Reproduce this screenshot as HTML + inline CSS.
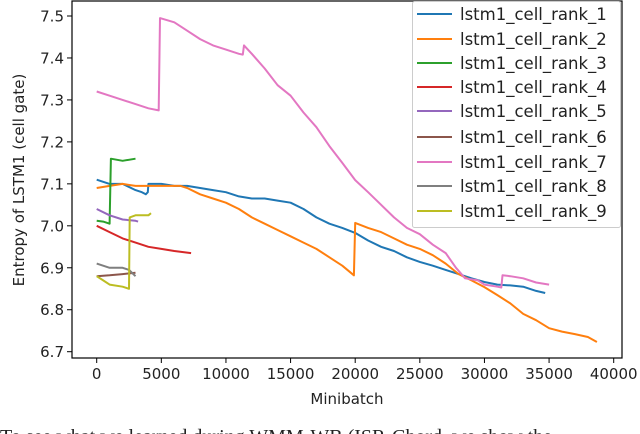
<!DOCTYPE html>
<html><head><meta charset="utf-8"><style>
html,body{margin:0;padding:0;background:#fff;width:640px;height:434px;overflow:hidden}
svg text{font-family:"DejaVu Sans","Liberation Sans",sans-serif}
</style></head><body>
<svg id="chart" width="640" height="434" viewBox="0 0 640 434" xmlns="http://www.w3.org/2000/svg">
<text x="0" y="443" font-family="Liberation Serif,serif" font-size="20" fill="#222" style="font-family:'Liberation Serif',serif">To see what we learned during WMM-WB (ISR-Chord, we show the</text>
</svg>
<script>
const xTicks=[0,5000,10000,15000,20000,25000,30000,35000,40000];
const yTicks=[6.7,6.8,6.9,7.0,7.1,7.2,7.3,7.4,7.5];
const seriesNames=["lstm1_cell_rank_1","lstm1_cell_rank_2","lstm1_cell_rank_3","lstm1_cell_rank_4","lstm1_cell_rank_5","lstm1_cell_rank_6","lstm1_cell_rank_7","lstm1_cell_rank_8","lstm1_cell_rank_9"];
const colors=["#1f77b4","#ff7f0e","#2ca02c","#d62728","#9467bd","#8c564b","#e377c2","#7f7f7f","#bcbd22"];
const rank1=[[0,7.11],[1000,7.10],[2000,7.10],[3000,7.085],[3500,7.08],[3800,7.075],[3950,7.08],[4000,7.10],[5000,7.10],[6000,7.095],[7000,7.095],[8000,7.09],[9000,7.085],[10000,7.08],[11000,7.07],[12000,7.065],[13000,7.065],[14000,7.06],[15000,7.055],[16000,7.04],[17000,7.02],[18000,7.005],[19000,6.995],[20000,6.983],[21000,6.965],[22000,6.95],[23000,6.94],[24000,6.925],[25000,6.914],[26000,6.905],[27000,6.895],[28000,6.885],[29000,6.875],[30000,6.866],[31000,6.86],[32000,6.858],[33000,6.855],[34000,6.845],[34700,6.84]];
const rank2=[[0,7.09],[1000,7.095],[2000,7.10],[3000,7.095],[4000,7.095],[5000,7.095],[6000,7.095],[6500,7.095],[7000,7.09],[8000,7.075],[9000,7.065],[10000,7.055],[11000,7.04],[12000,7.02],[13000,7.005],[14000,6.99],[15000,6.975],[16000,6.96],[17000,6.945],[18000,6.925],[19000,6.905],[19900,6.882],[20000,7.007],[21000,6.995],[22000,6.985],[23000,6.97],[24000,6.955],[25000,6.945],[26000,6.93],[27000,6.91],[28000,6.885],[29000,6.87],[30000,6.854],[31000,6.835],[32000,6.815],[33000,6.79],[34000,6.775],[35000,6.756],[36000,6.748],[37000,6.742],[38000,6.735],[38700,6.723]];
const rank3=[[0,7.012],[500,7.01],[1000,7.005],[1100,7.16],[2000,7.155],[3000,7.16]];
const rank4=[[0,7.0],[1000,6.985],[2000,6.97],[3000,6.96],[4000,6.95],[5000,6.945],[6000,6.94],[7300,6.935]];
const rank5=[[0,7.04],[1000,7.025],[2000,7.015],[3000,7.012],[3200,7.01]];
const rank6=[[0,6.88],[1000,6.882],[2000,6.885],[3000,6.888]];
const rank7=[[0,7.32],[1000,7.31],[2000,7.30],[3000,7.29],[4000,7.28],[4800,7.275],[4900,7.495],[6000,7.485],[7000,7.465],[8000,7.445],[9000,7.43],[10000,7.42],[11000,7.41],[11300,7.408],[11400,7.43],[12000,7.41],[13000,7.375],[14000,7.335],[15000,7.31],[16000,7.27],[17000,7.235],[18000,7.19],[19000,7.15],[20000,7.109],[21000,7.08],[22000,7.05],[23000,7.02],[24000,6.995],[25000,6.98],[26000,6.955],[27000,6.935],[27800,6.90],[28500,6.875],[29500,6.87],[30000,6.86],[31000,6.855],[31300,6.853],[31400,6.882],[32000,6.88],[33000,6.875],[34000,6.865],[35000,6.86]];
const rank8=[[0,6.91],[1000,6.9],[2000,6.9],[2500,6.895],[3000,6.88]];
const rank9=[[0,6.88],[500,6.87],[1000,6.86],[2000,6.855],[2500,6.85],[2550,7.02],[3000,7.025],[4000,7.025],[4200,7.03]];
const allSeries=[rank1,rank2,rank3,rank4,rank5,rank6,rank7,rank8,rank9];

const NS="http://www.w3.org/2000/svg";
const svg=document.getElementById('chart');
const L=72,R=622,T=1,B=358;
function xs(v){return 96.7+v*(613.7-96.7)/40000;}
function ys(v){return 16+(7.5-v)*(351.7-16)/0.8;}
function mk(tag,attrs,parent){const e=document.createElementNS(NS,tag);for(const k in attrs)e.setAttribute(k,attrs[k]);(parent||svg).appendChild(e);return e;}

const plot=mk('g',{});


allSeries.forEach((s,i)=>{
  const p=mk('polyline',{points:s.map(d=>xs(d[0]).toFixed(1)+','+ys(d[1]).toFixed(1)).join(' '),fill:'none',stroke:colors[i],'stroke-width':2,'stroke-linejoin':'round'},plot);
  
  
});
const frame=mk('rect',{x:L,y:T,width:R-L,height:B-T,fill:'none',stroke:'#000','stroke-width':1.2});



xTicks.forEach(v=>{
  const x=xs(v);
  const t=mk('line',{x1:x,y1:B,x2:x,y2:B+5,stroke:'#000','stroke-width':1});
  
  
  const l=mk('text',{x:x,y:B+21,'text-anchor':'middle','font-size':15,fill:'#222'});
  l.textContent=v;
  
  
});
yTicks.forEach(v=>{
  const y=ys(v);
  const t=mk('line',{x1:L-5,y1:y,x2:L,y2:y,stroke:'#000','stroke-width':1});
  
  
  const l=mk('text',{x:L-8,y:y+5.5,'text-anchor':'end','font-size':15,fill:'#222'});
  l.textContent=v.toFixed(1);
  
  
});
const xt=mk('text',{x:347,y:404,'text-anchor':'middle','font-size':15,fill:'#222'});
xt.textContent='Minibatch';


const yt=mk('text',{x:0,y:0,'text-anchor':'middle','font-size':15,fill:'#222',transform:'translate(24,180) rotate(-90)'});
yt.textContent='Entropy of LSTM1 (cell gate)';



const lg=mk('g',{});


mk('rect',{x:412.5,y:1.5,width:208,height:226,fill:'#fff','fill-opacity':0.85,stroke:'#ccc','stroke-width':1,rx:2},lg);
const ly=[14,39,63,87,111,137,162,186,211];
seriesNames.forEach((n,i)=>{
  const g=mk('g',{},lg);
  
  
  mk('line',{x1:417,y1:ly[i],x2:452,y2:ly[i],stroke:colors[i],'stroke-width':2},g);
  const t=mk('text',{x:460,y:ly[i]+6,'font-size':16.5,fill:'#222'},g);
  t.textContent=n;
});
</script>
</body></html>
